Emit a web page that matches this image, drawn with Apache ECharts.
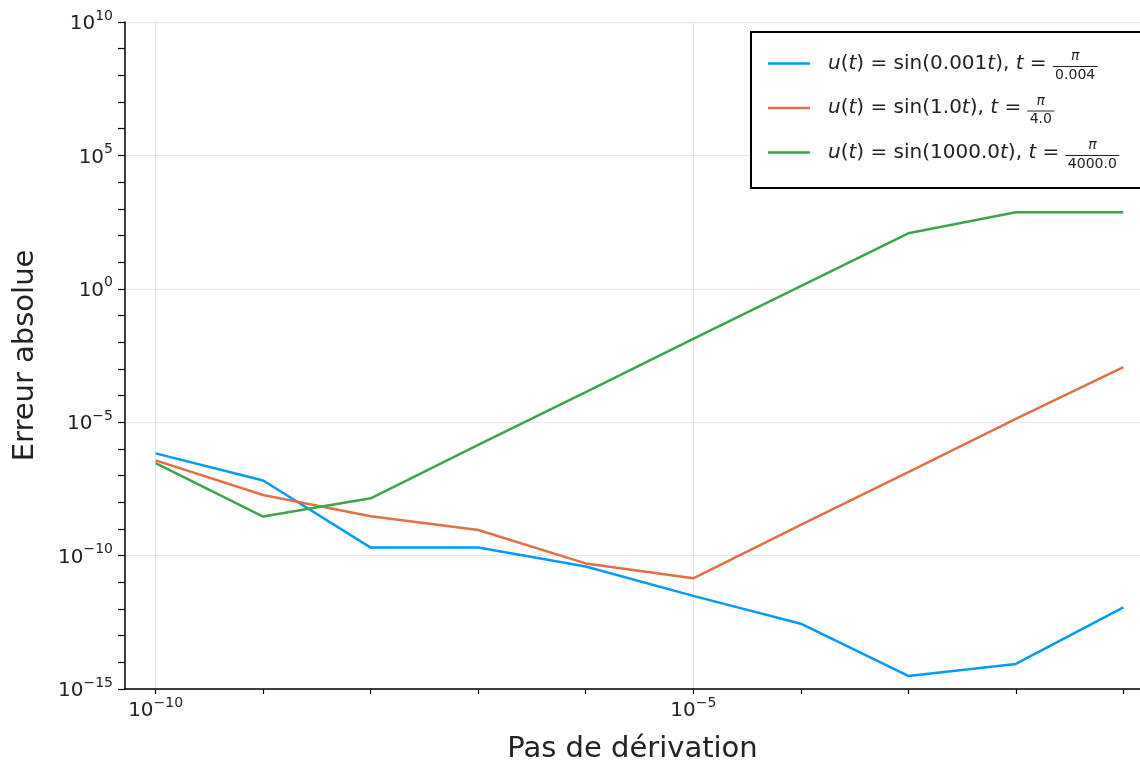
<!DOCTYPE html>
<html><head><meta charset="utf-8">
<script src="https://cdn.jsdelivr.net/npm/echarts@6/dist/echarts.min.js"></script>
<style>html,body{margin:0;padding:0;background:#fff}#c{width:1140px;height:761px}</style>
</head><body><div id="c"></div>
<script>
// ---- data ----
const steps = [1e-10, 1e-9, 1e-8, 1e-7, 1e-6, 1e-5, 1e-4, 1e-3, 1e-2, 1e-1];
const errSlow = [6.8e-7, 6.5e-8, 2.0e-10, 2.0e-10, 3.9e-11, 3.1e-12, 2.8e-13, 3.1e-15, 8.7e-15, 1.15e-12];
const errUnit = [3.7e-7, 1.86e-8, 3.0e-9, 9.1e-10, 5.1e-11, 1.41e-11, 1.41e-9, 1.35e-7, 1.32e-5, 1.15e-3];
const errFast = [2.95e-7, 2.9e-9, 1.41e-8, 1.41e-6, 1.35e-4, 1.32e-2, 1.26, 120, 741, 741];
const seriesNames = ['u(t) = sin(0.001t), t = π/0.004', 'u(t) = sin(1.0t), t = π/4.0', 'u(t) = sin(1000.0t), t = π/4000.0'];
const legendCoef = ['0.001', '1.0', '1000.0'];
const legendNum = ['π', 'π', 'π'];
const legendDen = ['0.004', '4.0', '4000.0'];
const xTickValues = [1e-10, 1e-9, 1e-8, 1e-7, 1e-6, 1e-5, 1e-4, 1e-3, 1e-2, 1e-1];
const xLabelValues = [1e-10, 1e-5];
const yTickValues = [1e-15, 1e-14, 1e-13, 1e-12, 1e-11, 1e-10, 1e-9, 1e-8, 1e-7, 1e-6, 1e-5, 1e-4, 1e-3, 1e-2, 1e-1, 1, 1e1, 1e2, 1e3, 1e4, 1e5, 1e6, 1e7, 1e8, 1e9, 1e10];
const yLabelValues = [1e-15, 1e-10, 1e-5, 1, 1e5, 1e10];
const xTitle = 'Pas de dérivation';
const yTitle = 'Erreur absolue';

// ---- styles ----
const FONT = '"DejaVu Sans", sans-serif';
const colors = ['#009af9', '#e26f46', '#3da44d'];
const gridColor = '#e6e6e6';
const textColor = '#222';
const xMin = Math.pow(10, -10.285), xMax = Math.pow(10, -0.845);

const chart = echarts.init(document.getElementById('c'), null, {renderer: 'canvas'});

function powLabel(v) {
  const e = Math.round(Math.log10(v));
  const s = (e < 0 ? '\u2212' + (-e) : String(e));
  return '{b|10}{e|' + s + '}';
}
const labelRich = {
  b: {fontSize: 20, fontFamily: FONT, color: textColor, lineHeight: 24, padding: [4, 0, 0, 0]},
  e: {fontSize: 14, fontFamily: FONT, color: textColor, lineHeight: 14, padding: [0, 0, 12, 0]}
};

const rich = {
  i0: {fontSize: 20, fontFamily: FONT, fontStyle: 'italic', color: textColor, padding: [0, 0, 0, 13]},
  i: {fontSize: 20, fontFamily: FONT, fontStyle: 'italic', color: textColor},
  n: {fontSize: 20, fontFamily: FONT, color: textColor}
};
function legendTokens(k) {
  return [['i0', 'u'], ['n', '('], ['i', 't'], ['n', ') = sin(' + legendCoef[k]], ['i', 't'], ['n', '), '], ['i', 't'], ['n', ' =']];
}
function legendRich(k) {
  return legendTokens(k).map(t => '{' + t[0] + '|' + t[1] + '}').join('');
}

const data = [errSlow, errUnit, errFast];
const series = data.map((arr, k) => ({
  name: seriesNames[k],
  type: 'line',
  data: steps.map((h, i) => [h, arr[i]]),
  showSymbol: false,
  symbol: 'none',
  lineStyle: {color: colors[k], width: 2.5},
  itemStyle: {color: colors[k]},
  xAxisIndex: 0, yAxisIndex: 0,
  animation: false,
  z: 3
}));

const L = {left: 751, top: 32, pl: 17, pt: 19.5, pb: 23.5, itemW: 42, lineH: 24, gap: 20.5};

chart.setOption({
  animation: false,
  backgroundColor: '#fff',
  grid: {left: 125, right: 0, top: 22, bottom: 72, containLabel: false, outerBoundsMode: 'none'},
  legend: {
    show: true,
    orient: 'vertical',
    left: L.left, top: L.top,
    padding: [L.pt, L.pl, L.pb, L.pl],
    itemGap: L.gap,
    itemWidth: L.itemW, itemHeight: 2.5,
    icon: 'rect',
    borderColor: '#000', borderWidth: 2,
    backgroundColor: '#fff',
    data: seriesNames,
    selectedMode: false,
    formatter: name => legendRich(seriesNames.indexOf(name)),
    textStyle: {fontSize: 20, fontFamily: FONT, color: textColor, lineHeight: L.lineH, width: 330, rich: rich}
  },
  xAxis: [{
    type: 'log', logBase: 10, min: xMin, max: xMax,
    name: xTitle, nameLocation: 'middle', nameGap: 46,
    nameTextStyle: {fontSize: 29, fontFamily: FONT, color: textColor},
    axisLine: {show: true, onZero: false, lineStyle: {color: '#000', width: 1.5}},
    axisTick: {show: true, inside: false, length: 5, customValues: xTickValues, lineStyle: {color: '#000', width: 1.2}},
    axisLabel: {show: true, margin: 8, customValues: xLabelValues, formatter: powLabel, rich: labelRich, hideOverlap: false},
    splitLine: {show: false}, minorTick: {show: false}
  }, {
    type: 'log', logBase: 10, min: xMin, max: xMax, position: 'bottom',
    axisLine: {show: false}, axisLabel: {show: false},
    axisTick: {show: false, customValues: xLabelValues},
    splitLine: {show: true, lineStyle: {color: gridColor, width: 1}}
  }],
  yAxis: [{
    type: 'log', logBase: 10, min: 1e-15, max: 1e10,
    name: yTitle, nameLocation: 'middle', nameGap: 85, nameRotate: 90,
    nameTextStyle: {fontSize: 29, fontFamily: FONT, color: textColor},
    axisLine: {show: true, onZero: false, lineStyle: {color: '#000', width: 1.5}},
    axisTick: {show: true, inside: false, length: 7, customValues: yTickValues, lineStyle: {color: '#000', width: 1.2}},
    axisLabel: {show: true, margin: 12, customValues: yLabelValues, formatter: powLabel, rich: labelRich, hideOverlap: false},
    splitLine: {show: false}, minorTick: {show: false}
  }, {
    type: 'log', logBase: 10, min: 1e-15, max: 1e10, position: 'left',
    axisLine: {show: false}, axisLabel: {show: false},
    axisTick: {show: false, customValues: yLabelValues},
    splitLine: {show: true, lineStyle: {color: gridColor, width: 1}}
  }],
  series: series
});

// ---- fractions of the legend entries (real text drawn as graphic text) ----
const cv = document.createElement('canvas');
const ctx = cv.getContext('2d');
function measure(style, txt) {
  ctx.font = (style === 'n' ? '' : 'italic ') + '20px ' + FONT;
  return ctx.measureText(txt).width + (style === 'i0' ? 13 : 0);
}
const textStart = L.left + L.pl + L.itemW + 5;
const graphics = [];
legendDen.forEach((den, k) => {
  const w = legendTokens(k).reduce((s, t) => s + measure(t[0], t[1]), 0);
  ctx.font = '14px ' + FONT;
  const barW = Math.max(ctx.measureText(den).width, ctx.measureText(legendNum[k]).width) + 5;
  const x0 = textStart + w + 6;
  const cx = x0 + barW / 2;
  const rowC = L.top + L.pt + L.lineH / 2 + k * (L.lineH + L.gap);
  graphics.push({type: 'text', z: 100, style: {text: legendNum[k], x: cx, y: rowC - 7, font: 'italic 14px ' + FONT, fill: textColor, textAlign: 'center', textVerticalAlign: 'middle'}});
  graphics.push({type: 'line', z: 100, shape: {x1: x0, y1: rowC + 3, x2: x0 + barW, y2: rowC + 3}, style: {stroke: textColor, lineWidth: 1}});
  graphics.push({type: 'text', z: 100, style: {text: den, x: cx, y: rowC + 11.5, font: '14px ' + FONT, fill: textColor, textAlign: 'center', textVerticalAlign: 'middle'}});
});
chart.setOption({graphic: graphics});
</script>
</body></html>
